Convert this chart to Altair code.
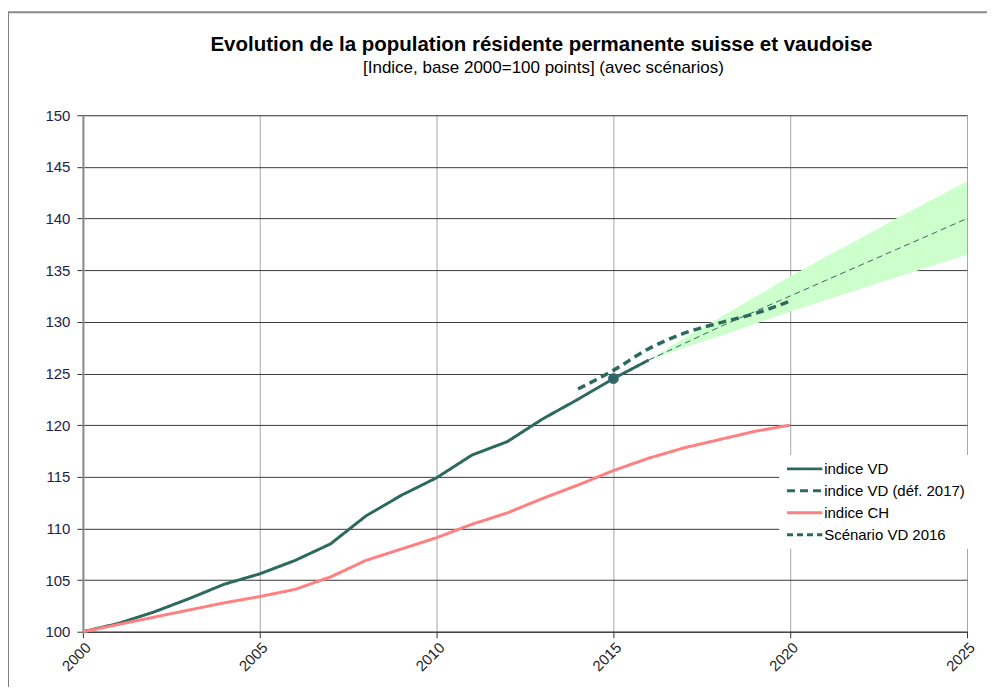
import altair as alt
import pandas as pd

# ---- data ----
years_vd = list(range(2000, 2017))
vd = [100, 100.8, 101.9, 103.2, 104.6, 105.6, 106.9, 108.5, 111.2, 113.2,
      114.9, 117.1, 118.4, 120.6, 122.5, 124.5, 126.3]

years_vd17 = list(range(2014, 2021))
vd17 = [123.5, 125.3, 127.4, 128.9, 129.9, 130.8, 132.0]

years_ch = list(range(2000, 2021))
ch = [100, 100.7, 101.4, 102.1, 102.8, 103.4, 104.1, 105.3, 106.9, 108.0,
      109.1, 110.4, 111.5, 112.9, 114.2, 115.6, 116.8, 117.8, 118.6, 119.4, 120.0]

years_sc = list(range(2015, 2026))
sc_mid = [124.5, 126.3, 127.9, 129.5, 131.0, 132.5, 134.0, 135.5, 137.0, 138.5, 140.0]

years_band = list(range(2016, 2026))
band_high = [126.3, 128.4, 130.4, 132.4, 134.4, 136.3, 138.1, 140.0, 141.8, 143.6]
band_low = [126.3, 127.5, 128.6, 129.8, 131.0, 132.1, 133.2, 134.3, 135.4, 136.5]

dot_year = [2015]
dot_val = [124.5]

series_names = ["indice VD", "indice VD (déf. 2017)", "indice CH", "Scénario VD 2016"]
x_ticks = [2000, 2005, 2010, 2015, 2020, 2025]
y_ticks = list(range(100, 151, 5))

title_text = ["Evolution de la population résidente permanente suisse et vaudoise"]
subtitle_text = ["[Indice, base 2000=100 points] (avec scénarios)"]

# ---- tables ----
lines = pd.concat([
    pd.DataFrame({"year": years_vd, "value": vd, "series": series_names[0]}),
    pd.DataFrame({"year": years_vd17, "value": vd17, "series": series_names[1]}),
    pd.DataFrame({"year": years_ch, "value": ch, "series": series_names[2]}),
    pd.DataFrame({"year": years_sc, "value": sc_mid, "series": series_names[3]}),
], ignore_index=True)
band = pd.DataFrame({"year": years_band, "low": band_low, "high": band_high})
dot = pd.DataFrame({"year": dot_year, "value": dot_val})

TEAL = "#2d6a5e"
PINK = "#ff8080"
FONT = "Liberation Sans"

xscale = alt.Scale(domain=[2000, 2025], nice=False)
yscale = alt.Scale(domain=[100, 150], nice=False)

x_axis = alt.Axis(values=x_ticks, format="d", labelAngle=-45, grid=True,
                  gridColor="#a6a6a6", gridWidth=1, domainColor="#333333",
                  domainWidth=1, tickColor="#333333", tickSize=6,
                  labelFont=FONT, labelFontSize=15, labelColor="#222222",
                  labelPadding=2, title=None)
y_axis = alt.Axis(values=y_ticks, grid=True, gridColor="#3a3a3a", gridWidth=1,
                  domainColor="#8a8a8a", domainWidth=2, tickColor="#333333",
                  tickSize=6, labelFont=FONT, labelFontSize=15,
                  labelColor="#1e1e50", labelPadding=7, title=None)

area = alt.Chart(band).mark_area(color="#ccffcc", opacity=1).encode(
    x=alt.X("year:Q", scale=xscale, axis=x_axis),
    y=alt.Y("low:Q", scale=yscale, axis=y_axis),
    y2="high:Q",
)

legend = alt.Legend(title=None, orient="none", legendX=697, legendY=340,
                    fillColor="white", symbolType="stroke", symbolSize=1250,
                    symbolStrokeWidth=3, labelFont=FONT, labelFontSize=15,
                    labelColor="black", labelOffset=0, clipHeight=16,
                    rowPadding=6, padding=6)

color_enc = alt.Color("series:N",
                      scale=alt.Scale(domain=series_names,
                                      range=[TEAL, TEAL, PINK, TEAL]),
                      legend=legend)
dash_enc = alt.StrokeDash("series:N",
                          scale=alt.Scale(domain=series_names,
                                          range=[[1, 0], [8, 5], [1, 0], [6, 4]]),
                          legend=legend)

main_lines = alt.Chart(lines).transform_filter(
    alt.FieldOneOfPredicate(field="series", oneOf=[series_names[0], series_names[2]])
).mark_line(strokeWidth=3).encode(
    x=alt.X("year:Q", scale=xscale),
    y=alt.Y("value:Q", scale=yscale),
    color=color_enc,
    strokeDash=dash_enc,
    order=alt.Order("year:Q"),
)

def17_line = alt.Chart(lines).transform_filter(
    alt.datum.series == series_names[1]
).mark_line(strokeWidth=3.5, interpolate="monotone").encode(
    x=alt.X("year:Q", scale=xscale),
    y=alt.Y("value:Q", scale=yscale),
    color=color_enc,
    strokeDash=dash_enc,
    order=alt.Order("year:Q"),
)

scen_line = alt.Chart(lines).transform_filter(
    alt.datum.series == series_names[3]
).mark_line(strokeWidth=1).encode(
    x=alt.X("year:Q", scale=xscale),
    y=alt.Y("value:Q", scale=yscale),
    color=color_enc,
    strokeDash=dash_enc,
    order=alt.Order("year:Q"),
)

points = alt.Chart(dot).mark_circle(size=100, color=TEAL, opacity=1,
                                    stroke="#4a6fa5", strokeWidth=1).encode(
    x=alt.X("year:Q", scale=xscale),
    y=alt.Y("value:Q", scale=yscale),
)

title_mark = alt.Chart(pd.DataFrame({"t": title_text})).mark_text(
    font=FONT, fontSize=20.5, fontWeight="bold", color="black",
    align="center", baseline="middle").encode(
    text="t:N", x=alt.value(459), y=alt.value(-70))
subtitle_mark = alt.Chart(pd.DataFrame({"t": subtitle_text})).mark_text(
    font=FONT, fontSize=17, color="black",
    align="center", baseline="middle").encode(
    text="t:N", x=alt.value(461), y=alt.value(-47))

frame_df = pd.DataFrame({"k": [0]})
frame_top = alt.Chart(frame_df).mark_rule(color="#8c8c8c", strokeWidth=2).encode(
    x=alt.value(-76), x2=alt.value(905), y=alt.value(-103))
frame_left = alt.Chart(frame_df).mark_rule(color="#808080", strokeWidth=2).encode(
    x=alt.value(-75), x2=alt.value(-75), y=alt.value(-103), y2=alt.value(575))

chart = alt.layer(area, main_lines, def17_line, scen_line, points,
                  title_mark, subtitle_mark, frame_top, frame_left).properties(
    width=885,
    height=517,
    padding={"left": 75, "top": 107, "right": 20, "bottom": 55},
    autosize=alt.AutoSizeParams(type="none"),
).configure_view(stroke=None).configure(background="white")

chart.save("out.html", embed_options={"renderer": "svg", "actions": False})
